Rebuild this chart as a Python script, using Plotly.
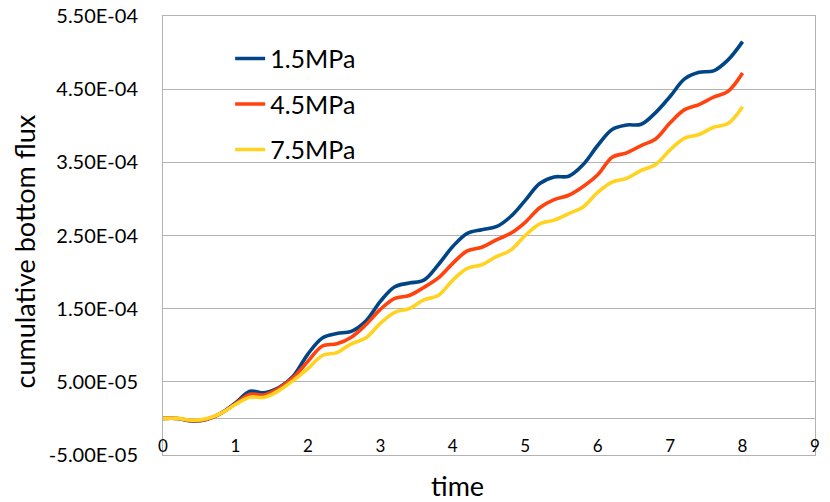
import plotly.graph_objects as go

SCALE = 1e-4

time = [0.0, 0.2, 0.4, 0.6, 0.8, 1.0, 1.2, 1.4, 1.6, 1.8,
        2.0, 2.2, 2.4, 2.6, 2.8, 3.0, 3.2, 3.4, 3.6, 3.8,
        4.0, 4.2, 4.4, 4.6, 4.8, 5.0, 5.2, 5.4, 5.6, 5.8,
        6.0, 6.2, 6.4, 6.6, 6.8, 7.0, 7.2, 7.4, 7.6, 7.8, 8.0]

flux_1_5 = [0.000, 0.000, -0.035, -0.015, 0.07, 0.21, 0.37, 0.35, 0.42, 0.58,
            0.88, 1.10, 1.16, 1.19, 1.33, 1.60, 1.80, 1.85, 1.89, 2.10,
            2.35, 2.53, 2.58, 2.62, 2.76, 2.98, 3.21, 3.30, 3.31, 3.47,
            3.73, 3.95, 4.01, 4.02, 4.18, 4.40, 4.64, 4.73, 4.75, 4.90, 5.15]

flux_4_5 = [0.000, 0.000, -0.030, -0.010, 0.07, 0.20, 0.33, 0.32, 0.41, 0.56,
            0.78, 0.99, 1.02, 1.11, 1.28, 1.49, 1.64, 1.68, 1.79, 1.92,
            2.12, 2.29, 2.34, 2.44, 2.53, 2.68, 2.88, 2.99, 3.05, 3.17,
            3.33, 3.57, 3.63, 3.73, 3.82, 4.04, 4.22, 4.29, 4.39, 4.47, 4.72]

flux_7_5 = [0.000, 0.000, -0.025, -0.005, 0.07, 0.19, 0.29, 0.29, 0.38, 0.52,
            0.68, 0.86, 0.90, 1.02, 1.10, 1.30, 1.45, 1.50, 1.62, 1.68,
            1.89, 2.05, 2.10, 2.21, 2.30, 2.50, 2.66, 2.71, 2.80, 2.89,
            3.09, 3.23, 3.28, 3.39, 3.47, 3.67, 3.83, 3.88, 3.98, 4.03, 4.26]

series_names = ["1.5MPa", "4.5MPa", "7.5MPa"]
series_colors = ["#004586", "#ff420e", "#ffd320"]

y_tickvals = [-5e-5, 5e-5, 1.5e-4, 2.5e-4, 3.5e-4, 4.5e-4, 5.5e-4]
y_ticktext = ["-5.00E-05", "5.00E-05", "1.50E-04", "2.50E-04",
              "3.50E-04", "4.50E-04", "5.50E-04"]
x_tickvals = [0, 1, 2, 3, 4, 5, 6, 7, 8, 9]

FONT = "Lato"
GRID = "#b3b3b3"

fig = go.Figure()
for i, (name, vals, col) in enumerate(zip(series_names,
                                          [flux_1_5, flux_4_5, flux_7_5],
                                          series_colors)):
    fig.add_trace(go.Scatter(
        x=time, y=[v * SCALE for v in vals], name=name, mode="lines",
        line=dict(color=col, width=3.6, shape="spline", smoothing=1.0),
        legendgroup=f"g{i}",
    ))

fig.update_layout(
    template="none",
    width=830, height=502,
    margin=dict(l=163, r=15, t=16, b=47, pad=0),
    paper_bgcolor="white", plot_bgcolor="white",
    font=dict(family=FONT, color="#000000"),
    showlegend=True,
    legend=dict(x=0.103, y=0.955, xanchor="left", yanchor="top",
                font=dict(size=25, family=FONT, color="#000000"),
                bgcolor="rgba(0,0,0,0)", tracegroupgap=10),
    xaxis=dict(range=[0, 9], tickvals=x_tickvals, showgrid=False,
               zeroline=False, showline=True, linecolor=GRID, linewidth=1,
               mirror=True, ticks="", ticklabelposition="inside",
               ticklabeloverflow="allow", automargin=False,
               tickfont=dict(size=17, family=FONT, color="#000000")),
    yaxis=dict(range=[-5.0001e-5, 5.5001e-4], tickvals=y_tickvals,
               ticktext=y_ticktext,
               showgrid=True, gridcolor=GRID, gridwidth=1,
               zeroline=True, zerolinecolor=GRID, zerolinewidth=1,
               showline=True, linecolor=GRID, linewidth=1, mirror=True,
               ticks="", ticklabelstandoff=20, ticklabeloverflow="allow",
               automargin=False,
               tickfont=dict(size=20, family=FONT, color="#000000")),
    annotations=[
        dict(text="time", x=0.452, y=-0.07, xref="paper", yref="paper",
             xanchor="center", yanchor="middle", showarrow=False,
             font=dict(size=27, family=FONT, color="#000000")),
        dict(text="cumulative bottom flux", x=-0.213, y=0.464, xref="paper",
             yref="paper", xanchor="center", yanchor="middle", textangle=-90,
             showarrow=False, font=dict(size=27, family=FONT, color="#000000")),
    ],
)

fig.write_html("out.html",
               config={"displayModeBar": False},
               post_script="document.body.style.margin='0';"
                           "document.body.style.overflow='hidden';")
